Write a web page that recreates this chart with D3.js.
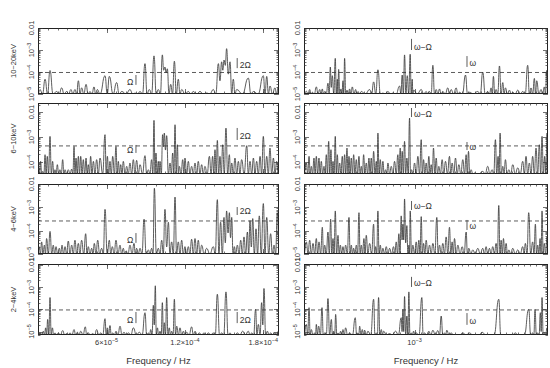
<!DOCTYPE html>
<html>
<head>
<meta charset="utf-8">
<script src="https://cdn.jsdelivr.net/npm/d3@7"></script>
<style>
  body { margin: 0; background: #fff; }
  svg { display: block; font-family: "Liberation Sans", Arial, sans-serif; }
</style>
</head>
<body>
<div id="chart"></div>
<script>
// Power spectra.
// Each point is [frequency in microHz, power in units of 1e-5].
// Left column = orbital range, right column = spin range.
const lowF1020 = [[7.5,0.3],[9.0,1.6],[11,0.3],[12.9,4.7],[14.8,0.3],[16.7,11.7],[19,0.3],[21.8,1.3],[23.7,0.3],[25.6,1.9],[27.5,0.3],[29.4,1.3],[31,0.3],[32.7,1.6],[34.2,0.3],[35.8,1.6],[37.1,0.3],[38.4,4.0],[39.7,0.3],[40.9,1.9],[42.6,0.3],[44.3,2.75],[45.8,0.3],[47.3,1.3],[48.8,0.3],[50.4,2.1],[51.6,0.3],[52.9,1.6],[55,0.3],[58.8,6.8],[60.5,0.3],[62.1,6.3],[65,0.3],[67.7,3.3],[69.6,0.3],[71.6,1.3],[75,0.3],[77.9,1.6],[80,0.3],[81.8,1.1],[83.7,0.3],[85.6,1.3],[87.5,0.3],[89.4,24],[91,0.3],[92.7,1.6],[94.5,0.3],[96.3,54],[98,0.3],[99.6,1.6],[101.2,0.3],[102.7,60],[103.7,12],[104.7,16.8],[105.6,9],[106.5,14],[107.8,0.3],[109.1,2.75],[110.5,0.3],[111.9,31],[113.4,0.3],[114.9,4.7],[116.2,0.3],[117.5,1.6],[120,0.3],[122.6,1.3],[124.5,0.3],[126.4,1.3],[129,0.3],[131.5,1.3],[134,0.3],[136.6,1.1],[139,0.3],[141.7,1.6],[143.6,0.3],[145.6,24],[146.8,4],[148.1,29],[149,12],[149.9,35],[150.9,20],[151.9,115],[153.2,8],[154.5,29],[155.8,0.3],[157,4.7],[158.3,0.3],[159.6,1.6],[164,0.3],[168.5,5.3],[170.5,0.3],[172.4,1.3],[176,0.3],[180,6.8],[181.3,0.3],[182.6,6.3],[183.9,0.3],[185.1,2.3],[187,0.3],[188.9,1.9],[190.2,0.3],[191.5,2.1],[192,1]]
const highF1020 = [[853.6,0.3],[856.5,1.34],[858.5,0.3],[860.6,1.6],[862.2,0.3],[863.9,1.2],[866.3,0.3],[868.8,2.1],[870.9,0.3],[873.0,1.6],[874.6,0.3],[876.3,1.7],[877.7,0.3],[879.2,1.3],[881.3,0.3],[883.4,3.1],[884.9,0.3],[886.4,16.8],[887.6,2],[888.9,6.8],[890.8,0.3],[892.7,41.7],[894.0,0.3],[895.3,4.7],[896.1,1],[897.0,13.1],[898.5,0.3],[900.0,1.7],[901.3,0.3],[902.6,4.0],[903.6,0.3],[904.7,41.7],[906.2,0.3],[907.8,1.5],[909.5,0.3],[911.2,1.7],[913.0,0.3],[914.7,2.1],[916.9,0.3],[919.1,1.6],[920.6,0.3],[922.2,1.3],[924.4,0.3],[926.6,1.3],[932,0.3],[937.7,1.6],[940.4,0.3],[943.1,3.55],[946,0.3],[948.9,12.6],[952.3,0.3],[955.7,1.1],[959.1,0.3],[962.6,1.3],[966,0.3],[969.5,1.1],[974,0.3],[978.8,2.3],[980.6,0.3],[982.5,7.3],[984.1,1],[985.8,59.8],[987.7,0.5],[989.6,6.8],[991.7,0.3],[993.8,64.3],[995.2,0.5],[996.7,4.7],[997.6,0.3],[998.6,1.5],[1004,0.3],[1009.6,1.6],[1013.2,0.3],[1016.8,1.3],[1019.2,0.3],[1021.7,1.3],[1024.1,0.3],[1026.6,20.2],[1029,0.3],[1031.5,1.6],[1034,0.3],[1036.4,1.7],[1038.8,0.3],[1041.3,1.3],[1045,0.3],[1048.8,1.9],[1051.3,0.3],[1053.8,1.6],[1057.6,0.3],[1061.4,1.9],[1064,0.3],[1066.5,1.2],[1071,0.3],[1075.7,7.3],[1078.8,0.3],[1081.9,1.2],[1088,0.3],[1094.8,1.3],[1098.7,0.3],[1102.6,9.8],[1106.5,0.3],[1110.5,1.3],[1113.2,0.3],[1115.9,1.9],[1117.7,0.3],[1119.6,6.3],[1121.7,0.3],[1123.9,1.6],[1126.6,0.3],[1129.3,18.8],[1132,0.3],[1134.7,3.3],[1136.8,0.3],[1139.0,1.9],[1142.3,0.3],[1145.6,1.5],[1148.3,0.3],[1151.0,1.2],[1155,0.3],[1159.3,1.5],[1163.4,0.3],[1167.6,1.3],[1171.7,0.3],[1175.9,20.2],[1178.7,0.3],[1181.5,1.9],[1184.3,0.3],[1187.2,5.1],[1189.2,1],[1191.2,4.0],[1194.9,0.3],[1198.6,1.6],[1201.4,0.3],[1204.3,2.1],[1206.3,0.3],[1208.3,11.7],[1210.6,0.3]]

const lowF610 = [[7.5,0.3],[7.76,6.7],[8.6,0.3],[9.5,10.6],[10.3,0.3],[11.1,4.2],[12,0.3],[12.9,19.6],[13.7,1],[14.6,16.8],[15.6,0.3],[16.7,106],[17.7,0.3],[18.7,10.6],[19.6,0.3],[20.5,4.9],[21.4,0.3],[22.3,7.8],[23.3,0.3],[24.3,4.9],[25.3,0.3],[26.4,12.4],[27.3,0.3],[28.2,4.9],[29.4,0.3],[30.7,4.9],[32,0.3],[33.3,5.2],[34.2,0.3],[35.1,42],[35.8,2],[36.6,14.4],[37.5,0.3],[38.4,16.8],[39.3,0.3],[40.2,16.8],[41.2,0.3],[42.2,12.4],[43.2,0.3],[44.3,14.4],[45.1,0.3],[46.0,7.8],[46.9,0.3],[47.8,16.8],[48.8,0.3],[49.9,10.6],[51.1,0.3],[52.4,12.4],[53.7,0.3],[55.0,14.4],[57,0.3],[58.8,124],[59.7,2],[60.6,16.8],[61.6,0.3],[62.6,10.6],[63.6,0.3],[64.7,16.8],[66,0.3],[67.2,42],[68.1,0.3],[69.0,10.6],[69.9,0.3],[70.8,7.8],[71.8,0.3],[72.8,10.6],[74.1,0.3],[75.4,6.7],[76.6,0.3],[77.9,9.1],[79.2,0.3],[80.5,12.4],[81.7,0.3],[83.0,11.6],[84.3,0.3],[85.6,7.8],[87.5,0.3],[89.4,17.9],[90.7,0.3],[92.0,4.9],[93.2,0.3],[94.5,12.4],[95.4,0.3],[96.3,463],[97.1,3],[97.8,22.8],[98.7,0.3],[99.6,10.6],[100.2,1],[100.9,10.6],[101.9,0.3],[102.9,124],[103.5,40],[104.2,144],[105.1,30],[106.0,113],[107.3,0.3],[108.6,9.1],[109.6,0.3],[110.6,22.8],[111.5,0.3],[112.4,310],[113.3,2],[114.2,49],[115,0.3],[115.7,6.7],[117,0.3],[118.3,12.4],[119.2,0.3],[120.0,14.4],[121.3,0.3],[122.6,10.6],[123.8,0.3],[125.1,6.7],[126.4,0.3],[127.7,9.1],[129,0.3],[130.2,10.6],[131.5,0.3],[132.8,7.8],[134,0.3],[135.3,6.7],[137,0.3],[138.7,16.8],[140,0.3],[141.2,16.8],[142.1,2],[143.0,31],[143.9,2],[144.8,73],[145.8,0.3],[146.8,16.8],[147.8,0.3],[148.9,49],[150.1,0.3],[151.4,228],[152.7,0.3],[154.0,19.6],[154.9,0.3],[155.8,9.1],[157,0.3],[158.3,14.4],[159.6,0.3],[160.9,10.6],[162.1,0.3],[163.4,12.4],[165.3,0.3],[167.3,45],[168.5,0.3],[169.8,10.6],[171.1,0.3],[172.4,14.4],[173.6,0.3],[174.9,10.6],[176.2,0.3],[177.5,16.8],[178.7,0.3],[180.0,106],[181.3,0.3],[182.6,16.8],[183.8,0.3],[185.1,36],[186.4,0.3],[187.7,14.4],[188.9,0.3],[190.2,10.6],[191.5,0.3]]
const highF610 = [[853.6,0.3],[856.5,9.1],[858.2,0.3],[859.8,16.8],[861.2,0.3],[862.6,6.7],[864.2,0.3],[865.9,14.4],[867.3,0.3],[868.8,16.8],[870.4,0.3],[872.1,14.4],[873.5,0.3],[875.0,10.6],[876.7,0.3],[878.4,6.7],[879.8,0.3],[881.3,19.6],[882.8,0.3],[884.3,67],[885.7,3],[887.2,31],[888.5,0.3],[889.8,10.6],[891.2,0.3],[892.7,106],[894,0.3],[895.3,19.6],[896.8,0.3],[898.3,9.1],[900,0.3],[901.7,16.8],[903.2,0.3],[904.7,19.6],[906.2,2],[907.8,36],[909.1,0.3],[910.4,16.8],[911.9,0.3],[913.4,14.4],[915,0.3],[916.5,19.6],[918.2,0.3],[920.0,12.4],[921.7,0.3],[923.5,16.8],[925,0.3],[926.6,6.7],[928.1,0.3],[929.7,19.6],[931.4,0.3],[933.2,9.1],[935,0.3],[936.8,14.4],[938.3,0.3],[939.9,14.4],[941.5,0.3],[943.1,26.6],[944.9,0.3],[946.7,10.6],[947.8,0.3],[948.9,144],[950.5,0.3],[952.1,12.4],[953.9,0.3],[955.7,10.6],[957.5,0.3],[959.4,4.9],[961,0.3],[962.6,9.1],[964.9,0.3],[967.2,6.7],[969.5,0.3],[971.8,10.6],[974.1,0.3],[976.4,19.6],[978,2],[979.7,36],[981.1,3],[982.5,26.6],[984.1,3],[985.8,67],[987.4,0.3],[989.1,14.4],[991,0.3],[992.9,574],[994.3,0.3],[995.7,4.9],[997.8,0.3],[1000,9.1],[1002.4,0.3],[1004.8,16.8],[1007.2,0.3],[1009.6,78],[1011.3,0.3],[1013.0,12.4],[1014.9,0.3],[1016.8,9.1],[1018.7,0.3],[1020.7,16.8],[1022.4,0.3],[1024.1,7.8],[1025.8,0.3],[1027.5,36],[1029.5,0.3],[1031.5,14.4],[1033.5,0.3],[1035.4,6.7],[1037.8,0.3],[1040.3,12.4],[1042.8,0.3],[1045.3,10.6],[1048.3,0.3],[1051.3,16.8],[1053.3,0.3],[1055.3,9.1],[1057.8,0.3],[1060.4,14.4],[1063,0.3],[1065.5,7.8],[1068.5,0.3],[1071.6,12.4],[1074.2,0.3],[1076.7,19.6],[1078.5,2],[1080.3,26.6],[1082.3,0.3],[1084.4,4.9],[1087,0.3],[1089.6,3.6],[1096,0.3],[1102.6,4.2],[1106.5,0.3],[1110.5,6.7],[1114,0.3],[1117.5,4.9],[1120.1,0.3],[1122.8,78],[1124.9,0.3],[1127.1,16.8],[1128.7,0.3],[1130.3,144],[1132.5,0.3],[1134.7,6.7],[1136.8,0.3],[1139.0,12.4],[1141.7,0.3],[1144.5,4.9],[1147.7,0.3],[1151.0,7.8],[1155.1,0.3],[1159.3,5.8],[1163.4,0.3],[1167.6,10.6],[1170.3,0.3],[1173.1,16.8],[1175.9,0.3],[1178.7,9.1],[1181.5,0.3],[1184.3,16.8],[1187.1,0.3],[1190.0,36],[1192.8,0.3],[1195.7,49],[1198,3],[1200.3,106],[1202.6,0.3],[1204.9,16.8],[1206.9,0.3],[1208.9,144],[1210.6,50]]

const lowF46 = [[7.5,0.3],[8.3,2.07],[9.3,0.3],[10.3,3.3],[11.3,0.3],[12.4,2.4],[13.2,0.3],[14.1,4.6],[15.4,0.3],[16.7,9.3],[18,0.3],[19.2,2.4],[20.2,0.3],[21.3,2.07],[22.5,0.3],[23.8,1.76],[24.8,0.3],[25.9,2.4],[27,0.3],[28.2,2.07],[29.4,0.3],[30.7,3.6],[32,0.3],[33.3,2.4],[34.5,0.3],[35.8,3.9],[37.1,0.3],[38.4,2.85],[39.6,0.3],[40.9,3.9],[42.5,0.3],[44.0,7.4],[45,0.3],[46.0,2.07],[47.3,0.3],[48.6,1.76],[49.6,0.3],[50.6,2.85],[51.9,0.3],[53.2,3.9],[54.7,0.3],[56.2,1.76],[57.5,0.3],[58.8,82],[60.5,0.3],[62.1,3.9],[63.2,0.3],[64.4,2.07],[65.8,0.3],[67.2,3.9],[68.7,0.3],[70.3,2.4],[71.5,0.3],[72.8,1.76],[73.9,0.3],[74.9,1.37],[76.4,0.3],[77.9,2.4],[79.5,0.3],[81.0,2.85],[82,0.3],[83.0,1.76],[84.3,0.3],[85.6,1.76],[87.1,0.3],[88.7,31],[90.3,0.3],[92.0,1.5],[93.2,0.3],[94.5,1.76],[95.5,0.3],[96.6,654],[98.1,0.3],[99.6,1.76],[100.9,0.3],[102.2,3.9],[103.4,0.3],[104.7,82],[106,2],[107.3,23],[108.5,0.3],[109.8,3.3],[111.1,0.3],[112.4,276],[113.6,0.3],[114.9,3.3],[116.2,0.3],[117.5,3.9],[118.7,0.3],[120.0,2.07],[121.3,0.3],[122.6,2.07],[123.8,0.3],[125.1,4.3],[126.4,0.3],[127.7,4.6],[129,0.3],[130.2,3.9],[131.5,0.3],[132.8,2.4],[134.7,0.3],[136.6,1.76],[139.1,0.3],[141.7,2.07],[143.2,0.3],[144.8,213],[146,1],[147.3,23],[148.6,1],[149.9,37],[150.9,3],[151.9,70],[153,8],[154.0,59],[154.9,5],[155.8,37],[156.8,0.3],[157.8,2.07],[158.9,0.3],[160.1,2.4],[161.4,0.3],[162.7,3.9],[163.9,0.3],[165.2,5.4],[166.5,0.3],[167.8,8.7],[168.8,0.3],[169.8,27],[170.8,2],[171.9,33],[173.1,0.3],[174.4,12],[175.6,0.3],[176.9,43],[178.4,0.3],[180.0,145],[181.3,0.3],[182.6,37],[184.1,0.3],[185.6,7.4],[186.9,0.3],[188.2,2.4],[189.4,0.3],[190.7,59],[192,1]]
const highF46 = [[853.6,0.3],[856.5,3.3],[858.5,0.3],[860.6,3.9],[862.6,0.3],[864.7,2.85],[866.7,0.3],[868.8,4.6],[870.4,0.3],[872.1,3.3],[874.2,0.3],[876.3,14],[877.7,0.3],[879.2,2.4],[881.3,0.3],[883.4,8.7],[885.1,0.3],[886.8,31],[888.3,0.3],[889.8,4.6],[891.2,0.3],[892.7,70],[894.4,0.3],[896.2,6.3],[897.7,0.3],[899.2,2.4],[900.9,0.3],[902.6,2.07],[904.3,0.3],[906.0,2.4],[908.2,0.3],[910.4,37],[911.9,0.3],[913.4,2.4],[915,0.3],[916.5,1.76],[918.2,0.3],[920.0,2.4],[921.7,0.3],[923.5,59],[925,0.3],[926.6,2.4],[928.3,0.3],[930.1,4.6],[931.6,0.3],[933.2,6.3],[935.4,0.3],[937.7,2.85],[940.4,0.3],[943.1,19],[944.4,0.3],[945.8,2.07],[947.3,0.3],[948.9,70],[950.5,0.3],[952.1,2.4],[953.9,0.3],[955.7,1.76],[958,0.3],[960.3,2.07],[962.6,0.3],[964.9,1.76],[967.6,0.3],[970.4,2.07],[972.2,0.3],[974.1,3.3],[976,0.3],[977.8,7.4],[979.4,1],[981.1,43],[982.3,4],[983.5,19],[984.6,4],[985.8,228],[987.4,3],[989.1,16.5],[990.5,0.3],[991.9,2.4],[992.9,0.3],[993.8,70],[995.7,0.3],[997.6,2.4],[1000,0.3],[1002.4,3.3],[1004.3,0.3],[1006.2,3.9],[1007.9,0.3],[1009.6,40],[1011.3,0.3],[1013.0,2.85],[1014.9,0.3],[1016.8,3.9],[1019.2,0.3],[1021.7,2.4],[1024.1,0.3],[1026.6,2.85],[1029.5,0.3],[1032.4,37],[1034.4,0.3],[1036.4,2.4],[1038.8,0.3],[1041.3,2.85],[1043.8,0.3],[1046.3,5.4],[1048.8,0.3],[1051.3,14],[1053.3,0.3],[1055.3,3.3],[1057.1,0.3],[1058.9,4.6],[1061.4,0.3],[1064.0,2.4],[1067.3,0.3],[1070.6,2.07],[1073.6,0.3],[1076.7,8.7],[1078.7,0.3],[1080.8,1.76],[1083.9,0.3],[1087.0,1.5],[1090.9,0.3],[1094.8,1.76],[1098.7,0.3],[1102.6,1.76],[1105.2,0.3],[1107.9,2.07],[1110.5,0.3],[1113.2,1.76],[1115.8,0.3],[1118.5,2.07],[1121.2,0.3],[1123.9,2.85],[1126,0.3],[1128.2,120],[1130.1,0.3],[1132.0,3.9],[1133.9,0.3],[1135.8,4.6],[1137.9,0.3],[1140.1,2.85],[1142.3,0.3],[1144.5,1.5],[1147.7,0.3],[1151.0,1.76],[1155.1,0.3],[1159.3,1.5],[1163.4,0.3],[1167.6,2.07],[1169.8,0.3],[1172.0,2.85],[1174.8,0.3],[1177.6,59],[1181,0.3],[1184.3,3.3],[1186.6,0.3],[1188.9,19],[1190.9,0.3],[1192.9,2.4],[1194.9,0.3],[1196.9,4.6],[1198.6,0.3],[1200.3,70],[1202.3,0.3],[1204.3,2.85],[1206.6,0.3],[1208.9,5.4],[1210.6,1]]

const lowF24 = [[7.5,0.3],[7.76,1.04],[8.6,0.3],[9.5,0.87],[10.5,0.3],[11.6,1.04],[12.5,0.3],[13.4,1.47],[14.1,0.3],[14.9,3.5],[15.8,0.3],[16.7,34],[17.6,0.3],[18.5,1.47],[19.5,0.3],[20.5,0.87],[21.8,0.3],[23.1,0.87],[24.7,0.3],[26.4,1.11],[27.9,0.3],[29.4,0.81],[30.7,0.3],[32.0,0.87],[33.5,0.3],[35.1,1.23],[36.3,0.3],[37.6,0.93],[38.9,0.3],[40.2,1.04],[42,0.3],[43.7,1.63],[44.8,0.3],[46.0,0.87],[47.7,0.3],[49.4,0.81],[50.9,0.3],[52.4,1.23],[54,0.3],[55.5,0.87],[57.1,0.3],[58.8,3.8],[59.7,0.3],[60.6,1.47],[61.6,0.3],[62.6,1.87],[63.6,0.3],[64.7,0.87],[66,0.3],[67.2,1.04],[68.7,0.3],[70.3,1.75],[71.8,0.3],[73.3,0.93],[75,0.3],[76.7,0.87],[78.6,0.3],[80.5,1.47],[82.8,0.3],[85.1,0.93],[87.2,0.3],[89.4,7.05],[90.7,0.3],[92.0,0.87],[92.9,0.3],[93.8,1.23],[94.8,0.3],[95.8,15.2],[96.5,2],[97.3,115],[98.1,0.3],[98.9,1.47],[99.9,0.3],[100.9,1.04],[101.8,0.3],[102.7,20],[103.5,0.3],[104.2,2.5],[105.1,0.3],[106.0,34],[107,0.3],[108.0,1.47],[108.9,0.3],[109.8,1.04],[110.9,0.3],[111.9,28.5],[112.8,0.3],[113.7,1.75],[115,0.3],[116.2,1.47],[117.5,0.3],[118.8,1.04],[120,0.3],[121.3,0.93],[123.2,0.3],[125.1,1.63],[126.4,0.3],[127.7,1.04],[129.3,0.3],[131.0,0.87],[132.8,0.3],[134.6,0.87],[136.3,0.3],[137.9,0.87],[139.8,0.3],[141.7,0.87],[143.2,0.3],[144.8,48],[146.5,0.3],[148.1,0.87],[149.7,0.3],[151.4,61],[153,0.3],[154.5,0.87],[155.8,0.3],[157.0,0.73],[158.5,0.3],[160.1,0.87],[162.1,0.3],[164.2,1.04],[166.3,0.3],[168.5,1.04],[169.8,0.3],[171.1,0.87],[172.6,0.3],[174.1,10],[175.1,0.3],[176.2,2.1],[177.5,0.3],[178.7,20],[179.6,2],[180.5,87],[181.8,0.3],[183.1,1.04],[184.3,0.3],[185.6,0.87],[187.2,0.3],[188.9,0.87],[190.2,0.3],[191.5,1.04],[192,0.3]]
const highF24 = [[853.6,0.3],[856.5,2.1],[858.1,0.3],[859.8,11.9],[861.2,0.3],[862.6,1.23],[864.6,0.3],[866.7,0.87],[867.8,0.3],[868.8,2.1],[870.2,0.3],[871.7,1.75],[873.8,0.3],[875.9,11.9],[877.5,0.3],[879.2,0.87],[881.3,0.3],[883.4,30.5],[885.5,0.3],[887.7,3.5],[889.1,0.3],[890.6,1.04],[891.9,0.3],[893.2,5.9],[894.7,0.3],[896.2,0.87],[897.9,0.3],[899.6,1.04],[901.1,0.3],[902.6,1.23],[904.3,0.3],[906.0,1.47],[908.6,0.3],[911.2,0.87],[914.9,0.3],[918.6,4.2],[920.4,0.3],[922.2,0.87],[923.3,0.3],[924.4,1.75],[926.1,0.3],[927.9,1.23],[929.4,0.3],[931.0,1.15],[933.2,0.3],[935.4,1.04],[939.2,0.3],[943.1,28.5],[944.9,0.3],[946.7,0.87],[948.2,0.3],[949.8,34],[951.6,0.3],[953.5,1.23],[955,0.3],[956.6,1.04],[960.7,0.3],[964.9,0.81],[969,0.3],[973.2,1.04],[977.1,0.3],[981.1,4.2],[982.3,1],[983.5,10],[984.6,1],[985.8,37.6],[987.4,0.3],[989.1,5.0],[990.5,0.3],[991.9,61],[993.5,0.3],[995.2,0.87],[996.9,0.3],[998.6,1.04],[1000.5,0.3],[1002.4,0.87],[1006.4,0.3],[1010.5,34],[1012.4,0.3],[1014.4,0.87],[1017.5,0.3],[1020.7,1.04],[1023.6,0.3],[1026.6,1.15],[1030.2,0.3],[1033.9,1.11],[1036.4,0.3],[1038.9,5.0],[1041.3,0.3],[1043.8,0.87],[1045.5,0.3],[1047.3,1.15],[1050.5,0.3],[1053.8,0.87],[1057.6,0.3],[1061.4,0.73],[1066.5,0.3],[1071.6,0.87],[1076.7,0.3],[1081.9,0.87],[1087,0.3],[1092.2,0.73],[1096.9,0.3],[1101.6,0.93],[1107.4,0.3],[1113.2,0.73],[1120.7,0.3],[1128.2,28.5],[1131.4,0.3],[1134.7,0.73],[1140,0.3],[1145.6,0.73],[1150.5,0.3],[1155.4,0.87],[1159.2,0.3],[1163.1,0.73],[1170.3,0.3],[1177.6,10],[1181,0.3],[1184.3,0.87],[1186.3,0.3],[1188.3,10],[1190.6,0.3],[1192.9,0.87],[1195.2,0.3],[1197.4,7.05],[1198.8,1],[1200.3,34],[1202.3,0.3],[1204.3,0.87],[1206.6,0.3],[1208.9,1.47],[1210.6,0.3]]

const bands = ["10\u221220keV", "6\u221210keV", "4\u22126keV", "2\u22124keV"]
const spectra = [[lowF1020, highF1020], [lowF610, highF610], [lowF46, highF46], [lowF24, highF24]]

// power axis range and detection level for each band
const powerRanges = [[1e-5, 1e-2], [3.3e-5, 2.3e-2], [1e-5, 1e-2], [7e-6, 1.1e-2]]
const thresholds = [9.5e-5, 4.4e-4, 2.6e-4, 9.4e-5]

// frequency ranges (Hz) and labelled ticks
const lowRange = [7.5e-6, 1.92e-4]
const highRange = [8.536e-4, 1.2106e-3]
const lowTicks = [6e-5, 1.2e-4, 1.8e-4]
const highTicks = [1e-3]

// marker frequencies (Hz) and their bar extents in power for each band
const omega = 8.25e-5, twoOmega = 1.6e-4
const beat = 9.957e-4, spin = 1.078e-3
const omegaBars = [[2.6e-5, 7.3e-5], [2.3e-4, 4.8e-4], [3e-5, 7.9e-5], [2.4e-5, 7.6e-5]]
const twoOmegaBars = [[1.5e-4, 4.3e-4], [7.6e-4, 2.3e-3], [4.7e-4, 1.03e-3], [2.4e-5, 7.6e-5]]
const beatBars = [[1e-3, 3.2e-3], [6.3e-3, 1.45e-2], [7.7e-4, 1.87e-3], [1.02e-3, 2.9e-3]]
const spinBars = [[1.7e-4, 5.3e-4], [3e-4, 6.3e-4], [1.07e-4, 2.87e-4], [2e-5, 6.8e-5]]

const width = 550
const height = 368
const cols = [{ x0: 38, x1: 279 }, { x0: 304, x1: 548 }]
const rows = [{ y0: 28, y1: 94 }, { y0: 103, y1: 174 }, { y0: 184, y1: 254 }, { y0: 264, y1: 335 }]
const ink = "#333"

const svg = d3.select("#chart").append("svg")
    .attr("width", width)
    .attr("height", height)

const xLow = d3.scaleLinear().domain(lowRange).range([cols[0].x0, cols[0].x1])
const xHigh = d3.scaleLog().domain(highRange).range([cols[1].x0, cols[1].x1])
const xScales = [xLow, xHigh]

// minor ticks on the frequency axes
const lowMinor = d3.range(7.5e-6, 1.92e-4, 7.5e-6)
const highMinor = d3.range(8.6e-4, 1.211e-3, 1e-5)

const isDecade = (v) => Math.abs(Math.log10(v) - Math.round(Math.log10(v))) < 1e-6

// "10" with a superscript exponent, or 0.01 written out
function powerLabel(sel, v) {
    if (Math.abs(v - 0.01) < 1e-9) {
        sel.text("0.01")
        return
    }
    const e = Math.round(Math.log10(v))
    sel.append("tspan").text("10")
    sel.append("tspan").attr("dy", -3).attr("font-size", 5.5).text("\u2212" + Math.abs(e))
}

function freqLabel(sel, v) {
    const e = Math.floor(Math.log10(v) + 1e-9)
    const m = +(v / Math.pow(10, e)).toFixed(2)
    sel.append("tspan").text(m === 1 ? "10" : `${m}\u00d710`)
    sel.append("tspan").attr("dy", -3).attr("font-size", 5.5).text("\u2212" + Math.abs(e))
}

function vbar(g, x, y1, y2) {
    g.append("line")
        .attr("x1", x).attr("x2", x)
        .attr("y1", y1).attr("y2", y2)
        .attr("stroke", ink).attr("stroke-width", 0.8)
}

rows.forEach((row, i) => {
    const y = d3.scaleLog().domain(powerRanges[i]).range([row.y1, row.y0]).clamp(true)

    // band name
    svg.append("text")
        .attr("transform", `translate(16,${(row.y0 + row.y1) / 2}) rotate(-90)`)
        .attr("text-anchor", "middle")
        .attr("font-size", 7.5)
        .attr("fill", ink)
        .text(bands[i])

    cols.forEach((col, j) => {
        const x = xScales[j]
        const g = svg.append("g")
        const clipId = `clip-${i}-${j}`

        svg.append("clipPath").attr("id", clipId)
            .append("rect")
            .attr("x", col.x0).attr("y", row.y0)
            .attr("width", col.x1 - col.x0).attr("height", row.y1 - row.y0)

        // smooth bell-shaped peaks between the read-off maxima and minima
        const line = d3.line()
            .x(d => x(d[0] * 1e-6))
            .y(d => y(d[1] * 1e-5))
            .curve(d3.curveBumpX)

        g.append("path")
            .datum(spectra[i][j])
            .attr("clip-path", `url(#${clipId})`)
            .attr("d", line)
            .attr("fill", "none")
            .attr("stroke", ink)
            .attr("stroke-width", 0.8)

        // detection level
        g.append("line")
            .attr("x1", col.x0).attr("x2", col.x1)
            .attr("y1", y(thresholds[i])).attr("y2", y(thresholds[i]))
            .attr("stroke", ink)
            .attr("stroke-width", 0.8)
            .attr("stroke-dasharray", "4,3")

        // frame
        g.append("rect")
            .attr("x", col.x0 + 0.5).attr("y", row.y0 + 0.5)
            .attr("width", col.x1 - col.x0 - 1).attr("height", row.y1 - row.y0 - 1)
            .attr("fill", "none")
            .attr("stroke", "#222")
            .attr("stroke-width", 1)

        // power ticks, both sides, pointing inward
        y.ticks().forEach(t => {
            const len = isDecade(t) ? 5 : 2.5
            const yy = Math.round(y(t)) + 0.5
            g.append("line").attr("x1", col.x0).attr("x2", col.x0 + len)
                .attr("y1", yy).attr("y2", yy).attr("stroke", ink).attr("stroke-width", 0.7)
            g.append("line").attr("x1", col.x1 - len).attr("x2", col.x1)
                .attr("y1", yy).attr("y2", yy).attr("stroke", ink).attr("stroke-width", 0.7)
            if (isDecade(t)) {
                g.append("text")
                    .attr("transform", `translate(${col.x0 - 4},${y(t)}) rotate(-90)`)
                    .attr("text-anchor", "middle")
                    .attr("font-size", 7.5)
                    .attr("fill", ink)
                    .call(powerLabel, t)
            }
        })

        // frequency ticks, top and bottom
        const minor = j === 0 ? lowMinor : highMinor
        const major = j === 0 ? lowTicks : highTicks
        const ticks = minor.map(v => ({ v, len: 2.5 })).concat(major.map(v => ({ v, len: 5 })))
        ticks.forEach(t => {
            const xx = Math.round(x(t.v)) + 0.5
            if (xx <= col.x0 + 1 || xx >= col.x1 - 1) return
            g.append("line").attr("x1", xx).attr("x2", xx)
                .attr("y1", row.y1).attr("y2", row.y1 - t.len).attr("stroke", ink).attr("stroke-width", 0.7)
            g.append("line").attr("x1", xx).attr("x2", xx)
                .attr("y1", row.y0).attr("y2", row.y0 + t.len).attr("stroke", ink).attr("stroke-width", 0.7)
        })

        if (i === rows.length - 1) {
            major.forEach(v => {
                g.append("text")
                    .attr("x", x(v)).attr("y", 345)
                    .attr("text-anchor", "middle")
                    .attr("font-size", 7.5)
                    .attr("fill", ink)
                    .call(freqLabel, v)
            })
            g.append("text")
                .attr("x", (col.x0 + col.x1) / 2).attr("y", 364)
                .attr("text-anchor", "middle")
                .attr("font-size", 9.5)
                .attr("fill", ink)
                .text("Frequency / Hz")
        }

        // harmonic markers
        if (j === 0) {
            const xo = x(omega)
            vbar(g, xo, y(omegaBars[i][0]), y(omegaBars[i][1]))
            g.append("text").attr("x", xo - 2.5).attr("y", y(omegaBars[i][0]))
                .attr("text-anchor", "end").attr("font-size", 8.5).attr("fill", ink).text("\u03a9")
            const x2 = x(twoOmega)
            vbar(g, x2, y(twoOmegaBars[i][0]), y(twoOmegaBars[i][1]))
            g.append("text").attr("x", x2 + 2.5).attr("y", y(twoOmegaBars[i][0]) - 0.5)
                .attr("font-size", 8.5).attr("fill", ink).text("2\u03a9")
        } else {
            const xb = x(beat)
            vbar(g, xb, y(beatBars[i][0]), y(beatBars[i][1]))
            g.append("text").attr("x", xb + 2.5).attr("y", y(beatBars[i][0]) - 0.5)
                .attr("font-size", 8.5).attr("fill", ink).text("\u03c9\u2212\u03a9")
            const xs = x(spin)
            vbar(g, xs, y(spinBars[i][0]), y(spinBars[i][1]))
            g.append("text").attr("x", xs + 2.5).attr("y", y(spinBars[i][0]) - 0.5)
                .attr("font-size", 8.5).attr("fill", ink).text("\u03c9")
        }
    })
})
</script>
</body>
</html>
